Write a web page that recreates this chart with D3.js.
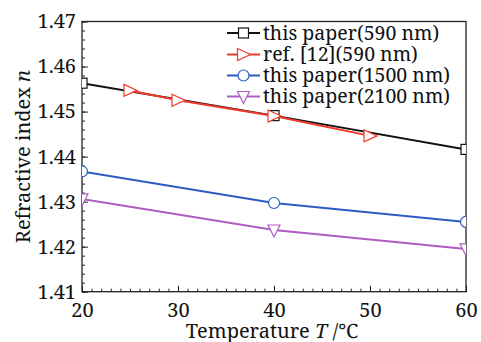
<!DOCTYPE html>
<html><head><meta charset="utf-8">
<script src="https://cdn.jsdelivr.net/npm/d3@7"></script>
<style>body{margin:0;background:#fff}svg{display:block}</style>
</head><body>
<script>
const temps590 = [20, 40, 60];
const paper590 = [1.4563, 1.4491, 1.4416];
const tempsRef = [25, 30, 40, 50];
const ref590 = [1.4547, 1.4525, 1.4490, 1.4446];
const temps1500 = [20, 40, 60];
const paper1500 = [1.4367, 1.4297, 1.4255];
const temps2100 = [20, 40, 60];
const paper2100 = [1.4306, 1.4237, 1.4195];
const xTicks = [20, 30, 40, 50, 60];
const yTicks = [1.41, 1.42, 1.43, 1.44, 1.45, 1.46, 1.47];
const legendLabels = ["this paper(590 nm)", "ref. [12](590 nm)", "this paper(1500 nm)", "this paper(2100 nm)"];

const W = 481, H = 342;
const m = {l: 82, r: 15, t: 21.5, b: 50.3};
const FONT = '"Noto Serif", "DejaVu Serif", serif';
const svg = d3.select("body").append("svg").attr("width", W).attr("height", H);
const x = d3.scaleLinear().domain([20, 60]).range([m.l, W - m.r]);
const y = d3.scaleLinear().domain([1.41, 1.47]).range([H - m.b, m.t]);

svg.append("defs").append("clipPath").attr("id", "clip")
  .append("rect").attr("x", m.l).attr("y", m.t).attr("width", W - m.l - m.r).attr("height", H - m.t - m.b);

svg.append("rect").attr("x", m.l).attr("y", m.t).attr("width", W - m.l - m.r).attr("height", H - m.t - m.b)
  .attr("fill", "none").attr("stroke", "#222").attr("stroke-width", 1.3);

const xAxis = d3.axisBottom(x).tickValues(xTicks).tickFormat(d3.format("d")).tickSize(-6).tickPadding(11);
const xMinor = d3.axisBottom(x).tickValues(d3.range(20, 61, 1)).tickFormat("").tickSize(-3);
const yAxis = d3.axisLeft(y).tickValues(yTicks).tickFormat(d3.format(".2f")).tickSize(-6).tickPadding(6);
const yMinor = d3.axisLeft(y).tickValues(d3.range(0, 31).map(i => 1.41 + i * 0.002)).tickFormat("").tickSize(-3);

function styleAxis(g) {
  g.attr("font-family", null);
  g.select(".domain").remove();
  g.selectAll("line").attr("stroke", "#222").attr("stroke-width", 1);
  g.selectAll("text").style("font-family", FONT).attr("font-size", 20).attr("fill", "#111");
}
svg.append("g").attr("transform", `translate(0,${H - m.b})`).call(xMinor).call(styleAxis);
svg.append("g").attr("transform", `translate(0,${H - m.b})`).call(xAxis).call(styleAxis);
svg.append("g").attr("transform", `translate(${m.l},0)`).call(yMinor).call(styleAxis);
svg.append("g").attr("transform", `translate(${m.l},0)`).call(yAxis).call(styleAxis);

const xt = svg.append("text").attr("x", 272).attr("y", 337.5).attr("text-anchor", "middle")
  .style("font-family", FONT).attr("font-size", 20).attr("fill", "#111");
xt.append("tspan").text("Temperature ");
xt.append("tspan").attr("font-style", "italic").text("T");
xt.append("tspan").text(" /℃");

const yt = svg.append("text").attr("transform", `translate(30,${(m.t + H - m.b) / 2}) rotate(-90)`)
  .attr("text-anchor", "middle").style("font-family", FONT).attr("font-size", 20).attr("fill", "#111");
yt.append("tspan").text("Refractive index ");
yt.append("tspan").attr("font-style", "italic").text("n");

const series = [
  {xs: temps590, ys: paper590, color: "#111111", marker: "square"},
  {xs: tempsRef, ys: ref590, color: "#f03a2a", marker: "right"},
  {xs: temps1500, ys: paper1500, color: "#2c5cc0", marker: "circle"},
  {xs: temps2100, ys: paper2100, color: "#b05cc0", marker: "down"}
];

function drawMarker(g, type, cx, cy, color) {
  if (type === "square") {
    g.append("rect").attr("x", cx - 5).attr("y", cy - 5).attr("width", 10).attr("height", 10)
      .attr("fill", "#fff").attr("stroke", color).attr("stroke-width", 1.2);
  } else if (type === "circle") {
    g.append("circle").attr("cx", cx).attr("cy", cy).attr("r", 5.5)
      .attr("fill", "#fff").attr("stroke", color).attr("stroke-width", 1.2);
  } else if (type === "right") {
    g.append("path").attr("d", `M${cx - 6},${cy - 6}L${cx + 7},${cy}L${cx - 6},${cy + 6}Z`)
      .attr("fill", "#fff").attr("stroke", color).attr("stroke-width", 1.2);
  } else if (type === "down") {
    g.append("path").attr("d", `M${cx - 6},${cy - 5}L${cx + 6},${cy - 5}L${cx},${cy + 7}Z`)
      .attr("fill", "#fff").attr("stroke", color).attr("stroke-width", 1.2);
  }
}

const plot = svg.append("g").attr("clip-path", "url(#clip)");
const line = d3.line();
series.forEach(s => {
  const pts = s.xs.map((d, i) => [x(d), y(s.ys[i])]);
  plot.append("path").attr("d", line(pts)).attr("fill", "none").attr("stroke", s.color).attr("stroke-width", 2);
});
series.forEach(s => {
  s.xs.forEach((d, i) => drawMarker(plot, s.marker, x(d), y(s.ys[i]), s.color));
});

const lg = svg.append("g");
const legY = [33, 54.5, 75.5, 96.5];
series.forEach((s, i) => {
  const yy = legY[i];
  lg.append("line").attr("x1", 227).attr("x2", 260).attr("y1", yy).attr("y2", yy)
    .attr("stroke", s.color).attr("stroke-width", 2);
  drawMarker(lg, s.marker, 243.5, yy, s.color);
  lg.append("text").attr("x", 263).attr("y", yy + 6.5).style("font-family", FONT).attr("font-size", 19.5)
    .attr("fill", "#111").text(legendLabels[i]);
});
</script>
</body></html>
